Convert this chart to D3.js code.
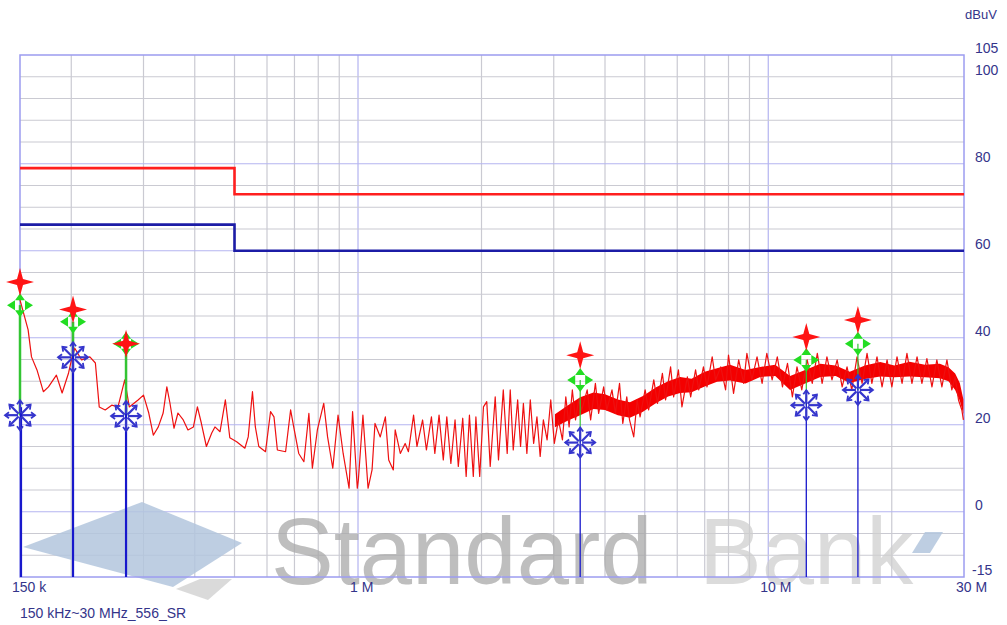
<!DOCTYPE html>
<html>
<head>
<meta charset="utf-8">
<title>150 kHz~30 MHz_556_SR</title>
<script src="https://cdnjs.cloudflare.com/ajax/libs/d3/7.8.5/d3.min.js"></script>
<style>
  html, body { margin: 0; padding: 0; background: #ffffff; }
  text { font-family: "Liberation Sans", Arial, sans-serif; }
</style>
</head>
<body>
<div id="viz"></div>
<script>
// limit lines (MHz / dBuV)
var limitFreq = [0.15, 0.5, 0.5, 30];
var qpLimit = [79, 79, 73, 73];
var avLimit = [66, 66, 60, 60];

// spectrum trace (MHz / dBuV)
var traceFreq = [0.150,0.157,0.160,0.165,0.171,0.176,0.184,0.190,0.197,0.201,0.204,0.212,0.222,0.229,0.234,0.242,0.251,0.260,0.270,0.277,
  0.291,0.300,0.309,0.317,0.326,0.335,0.342,0.348,0.356,0.364,0.375,0.385,0.397,0.406,0.415,0.427,0.440,0.448,0.461,0.475,
  0.487,0.506,0.530,0.540,0.553,0.562,0.573,0.595,0.612,0.624,0.636,0.666,0.685,0.697,0.717,0.738,0.759,0.774,0.796,0.825,
  0.843,0.868,0.894,0.920,0.951,0.970,0.996,1.002,1.028,1.058,1.082,1.100,1.133,1.166,1.188,1.219,1.232,1.268,1.303,1.327,
  1.366,1.392,1.437,1.468,1.510,1.539,1.576,1.614,1.646,1.684,1.724,1.756,1.800,1.835,1.869,1.910,1.938,1.980,2.022,2.060,
  2.10,2.16,2.20,2.26,2.31,2.35,2.39,2.45,2.49,2.53,2.58,2.63,2.68,2.73,2.78,2.83,2.89,2.95,3.01,3.08,
  3.15,3.21,3.27,3.33,3.39,3.45,3.51,3.62,3.69,3.79,3.86,3.97,4.04,4.16,4.24,4.34,4.42,4.52,4.59,4.70,
  4.79,4.87,5.01,5.11,5.26,5.37,5.52,5.62,5.78,5.88,6.04,6.16,6.35,6.47,6.65,6.77,6.95,7.09,7.30,7.44,
  7.66,7.87,8.00,8.23,8.47,8.71,8.87,9.12,9.39,9.66,9.92,10.22,10.52,10.83,11.14,11.45,11.75,12.07,12.44,12.80,
  13.17,13.53,13.90,14.30,14.72,15.14,15.56,15.98,16.46,16.93,17.41,17.89,18.41,18.94,19.48,20.01,20.60,21.19,21.78,22.40,
  23.05,23.69,24.36,25.06,25.76,26.50,27.26,28.02,28.55,29.09,29.64,29.90];
var traceLevel = [48.7,41.8,35.6,32.6,27.6,28.7,31.4,27.3,31.9,35.6,37.6,34.9,35.6,34.2,24.1,23.4,24.5,24.1,30.3,24.1,
  25.7,26.8,22.7,17.6,19.5,22.7,28.7,25.0,19.2,22.7,21.1,18.8,19.5,24.1,20.4,15.0,18.1,19.5,18.4,25.7,
  17.0,16.1,14.6,17.2,27.6,19.5,15.0,13.8,23.0,21.8,14.2,13.8,23.4,19.5,13.4,11.5,22.6,10.0,18.8,24.9,
  17.2,10.0,22.2,13.4,5.4,23.0,5.4,7.3,22.2,5.4,9.6,20.3,17.2,21.8,11.9,9.6,18.8,13.4,15.7,13.8,
  22.2,15.0,21.1,14.2,21.8,13.4,22.2,11.9,21.8,11.1,21.1,10.4,21.5,8.1,22.2,8.1,21.8,8.1,24.1,25.3,
  10.4,26.4,11.9,28.0,13.4,28.0,14.2,25.7,15.0,24.9,13.4,25.7,15.7,21.8,12.7,21.1,16.5,25.7,15.7,21.1,
  16.5,26.4,19.5,28.0,21.1,25.7,23.4,28.0,21.1,29.5,22.6,28.7,23.4,28.0,22.6,29.5,20.3,26.4,21.1,17.2,
  25.7,21.8,28.0,23.4,30.3,24.9,31.8,25.7,33.3,26.4,32.6,24.1,31.0,26.4,32.6,28.0,33.3,28.7,35.6,30.3,
  33.3,28.0,36.0,27.2,34.9,29.5,36.4,30.3,35.6,29.5,36.4,30.3,35.6,28.7,34.1,26.4,33.3,28.0,34.9,29.5,
  36.4,29.5,35.6,30.3,34.9,28.7,33.3,28.0,35.6,29.5,36.4,29.5,35.6,28.7,34.9,28.7,35.6,29.5,36.4,29.5,
  35.6,29.5,35.2,28.7,34.9,28.7,34.9,28.0,31.0,25.7,23.4,21.1];

// dense part of the trace, upper / lower edge of the solid band
var bandFreq = [3.02, 3.25, 3.48, 3.75, 4.0, 4.3, 4.6, 4.95, 5.33, 5.7, 6.1, 6.5, 7.0, 7.5, 8.07, 8.8, 9.56,
  10.4, 11.3, 12.3, 13.4, 14.6, 15.8, 17.2, 18.75, 20.3, 22.1, 24.1, 26.2, 27.5, 28.55, 29.3, 29.9];
var bandHigh = [22.4, 24.5, 26.3, 27.4, 27.0, 25.8, 25.2, 26.6, 28.6, 30.0, 31.0, 30.6, 32.2, 33.0, 33.8, 32.6, 33.3,
  33.8, 31.2, 32.6, 34.0, 33.6, 32.2, 33.6, 34.4, 33.6, 34.5, 33.8, 34.0, 33.2, 31.8, 29.6, 25.8];
var bandLow  = [19.4, 21.0, 22.2, 23.6, 23.4, 22.2, 21.6, 23.0, 25.0, 26.5, 27.3, 27.5, 28.8, 29.9, 30.2, 29.5, 31.0,
  31.2, 28.0, 29.5, 31.0, 31.2, 29.6, 30.5, 31.1, 30.9, 31.1, 30.9, 30.7, 30.0, 28.0, 25.5, 22.4];

// final measurement markers
var markerFreq = [0.150, 0.202, 0.272, 3.48, 12.38, 16.54];
var peakLevel  = [52.8, 46.5, 38.6, 36.0, 40.2, 44.1];
var qpLevel    = [47.5, 43.7, 38.6, 30.3, 34.9, 38.6];
var avLevel    = [22.2, 35.5, 22.0, 15.9, 24.5, 28.0];

var yLabels = [105, 100, 80, 60, 40, 20, 0, -15];
var xLabelVals = [0.15, 1, 10, 30];
var xLabelText = ["150 k", "1 M", "10 M", "30 M"];

var width = 1007, height = 625;
var plotL = 20, plotR = 964, plotT = 55, plotB = 577;
var labelColor = "#34348a";

var svg = d3.select("#viz").append("svg")
    .attr("width", width)
    .attr("height", height);

var x = d3.scaleLog().domain([0.15, 30]).range([plotL, plotR]);
var y = d3.scaleLinear().domain([-15, 105]).range([plotB, plotT]);

// grid
var xGrid = x.ticks().filter(function (d) { return d > 0.15 && d < 30; });
svg.selectAll(".vgrid").data(xGrid).enter().append("line")
    .attr("x1", function (d) { return x(d); })
    .attr("x2", function (d) { return x(d); })
    .attr("y1", plotT).attr("y2", plotB)
    .attr("stroke", function (d) { return (Math.abs(d - 1) < 1e-9 || Math.abs(d - 10) < 1e-9) ? "#b4b4f0" : "#cacad2"; })
    .attr("stroke-width", 1.2);

var yGrid = d3.range(-10, 105, 5);
svg.selectAll(".hgrid").data(yGrid).enter().append("line")
    .attr("x1", plotL).attr("x2", plotR)
    .attr("y1", function (d) { return y(d); })
    .attr("y2", function (d) { return y(d); })
    .attr("stroke", function (d) { return (d % 20 === 0 && d !== 100) ? "#b4b4f0" : "#cacad2"; })
    .attr("stroke-width", 1.2);

// watermark
var wm = svg.append("g");
wm.append("polygon")
    .attr("points", "23,547 142,502 242,543 173,587")
    .attr("fill", "#b3c5dd").attr("opacity", 0.85);
wm.append("polygon")
    .attr("points", "176,589 200,579 232,579 208,600")
    .attr("fill", "#d6d6d6").attr("opacity", 0.9);
wm.append("text")
    .attr("x", 271).attr("y", 584)
    .style("font-size", "94px")
    .attr("fill", "#a9a9a9").attr("opacity", 0.75)
    .text("Standard");
wm.append("text")
    .attr("x", 699).attr("y", 584)
    .style("font-size", "94px")
    .attr("fill", "#cfcfcf").attr("opacity", 0.75)
    .text("Bank");
wm.append("polygon")
    .attr("points", "925,532 943,532 930,553 912,553")
    .attr("fill", "#b3c5dd").attr("opacity", 0.85);

// frame
svg.append("rect")
    .attr("x", plotL).attr("y", plotT)
    .attr("width", plotR - plotL).attr("height", plotB - plotT)
    .attr("fill", "none").attr("stroke", "#9c9cf0").attr("stroke-width", 1.5);

// limits
var limLine = d3.line()
    .x(function (d) { return x(d[0]); })
    .y(function (d) { return y(d[1]); });
svg.append("path")
    .attr("d", limLine(d3.zip(limitFreq, qpLimit)))
    .attr("fill", "none").attr("stroke", "#ff1f1f").attr("stroke-width", 2.6);
svg.append("path")
    .attr("d", limLine(d3.zip(limitFreq, avLimit)))
    .attr("fill", "none").attr("stroke", "#1c1ca6").attr("stroke-width", 2.6);

// trace
var band = d3.area()
    .x(function (d) { return x(d[0]); })
    .y0(function (d) { return y(d[2]); })
    .y1(function (d) { return y(d[1]); });
svg.append("path")
    .attr("d", band(d3.zip(bandFreq, bandHigh, bandLow)))
    .attr("fill", "#f40000");

svg.append("path")
    .attr("d", limLine(d3.zip(traceFreq, traceLevel)))
    .attr("fill", "none").attr("stroke", "#ee1010").attr("stroke-width", 1.2)
    .attr("stroke-linejoin", "round");

// marker stems
var markers = markerFreq.map(function (f, i) {
    return { f: f, pk: peakLevel[i], qp: qpLevel[i], av: avLevel[i], i: i };
});
svg.selectAll(".stemG").data(markers).enter().append("line")
    .attr("x1", function (d) { return x(d.f); })
    .attr("x2", function (d) { return x(d.f); })
    .attr("y1", function (d) { return y(d.qp); })
    .attr("y2", function (d) { return y(d.av); })
    .attr("stroke", "#33c433")
    .attr("stroke-width", function (d) { return d.i < 3 ? 2.5 : 1.2; });
svg.selectAll(".stemB").data(markers).enter().append("line")
    .attr("x1", function (d) { return x(d.f) + (d.i === 0 ? 1 : 0); })
    .attr("x2", function (d) { return x(d.f) + (d.i === 0 ? 1 : 0); })
    .attr("y1", function (d) { return y(d.av) - 8; })
    .attr("y2", plotB)
    .attr("stroke", "#1818cc")
    .attr("stroke-width", function (d) { return d.i < 3 ? 2.2 : 1.3; });

// asterisk (average)
var ast = svg.selectAll(".ast").data(markers).enter().append("g")
    .attr("transform", function (d) { return "translate(" + x(d.f) + "," + y(d.av) + ")"; });
d3.range(8).forEach(function (k) {
    var a = k * Math.PI / 4, c = Math.cos(a), s = Math.sin(a);
    ast.append("line")
        .attr("x1", 2 * c).attr("y1", 2 * s)
        .attr("x2", 15 * c).attr("y2", 15 * s)
        .attr("stroke", "#3535cc").attr("stroke-width", 2.2);
    ast.append("path")
        .attr("d", "M" + (11 * c - 3 * s) + "," + (11 * s + 3 * c) +
                   "L" + (15 * c) + "," + (15 * s) +
                   "L" + (11 * c + 3 * s) + "," + (11 * s - 3 * c))
        .attr("fill", "none")
        .attr("stroke", "#3535cc").attr("stroke-width", 1.8);
});

// green quasi-peak marker
var qp = svg.selectAll(".qp").data(markers).enter().append("g")
    .attr("transform", function (d) { return "translate(" + x(d.f) + "," + y(d.qp) + ")"; });
qp.append("path")
    .attr("d", "M-13,0 L-5,-5 L-5,5 Z M13,0 L5,-5 L5,5 Z M0,-12 L-5,-5 L5,-5 Z M0,12 L-5,5 L5,5 Z")
    .attr("fill", "#22dd22");

// red peak star
var st = svg.selectAll(".pk").data(markers).enter().append("g")
    .attr("transform", function (d) { return "translate(" + x(d.f) + "," + y(d.pk) + ")"; });
st.append("path")
    .attr("d", "M0,-14 L3,-3 L14,0 L3,3 L0,14 L-3,3 L-14,0 L-3,-3 Z")
    .attr("fill", "#ff1414");

// axis labels
svg.selectAll(".ylab").data(yLabels).enter().append("text")
    .attr("x", function (d) { return d === -15 ? 972 : 975; })
    .attr("y", function (d) { return y(d) - 2; })
    .style("font-size", "14px")
    .attr("fill", labelColor)
    .text(function (d) { return d; });

svg.append("text")
    .attr("x", 965).attr("y", 19)
    .style("font-size", "13px")
    .attr("fill", labelColor)
    .text("dBuV");

svg.selectAll(".xlab").data(xLabelVals).enter().append("text")
    .attr("x", function (d) { return x(d) - 8; })
    .attr("y", 592)
    .style("font-size", "14px")
    .attr("fill", labelColor)
    .text(function (d, i) { return xLabelText[i]; });

svg.append("text")
    .attr("x", 20).attr("y", 618)
    .style("font-size", "14px")
    .attr("fill", labelColor)
    .text("150 kHz~30 MHz_556_SR");
</script>
</body>
</html>
